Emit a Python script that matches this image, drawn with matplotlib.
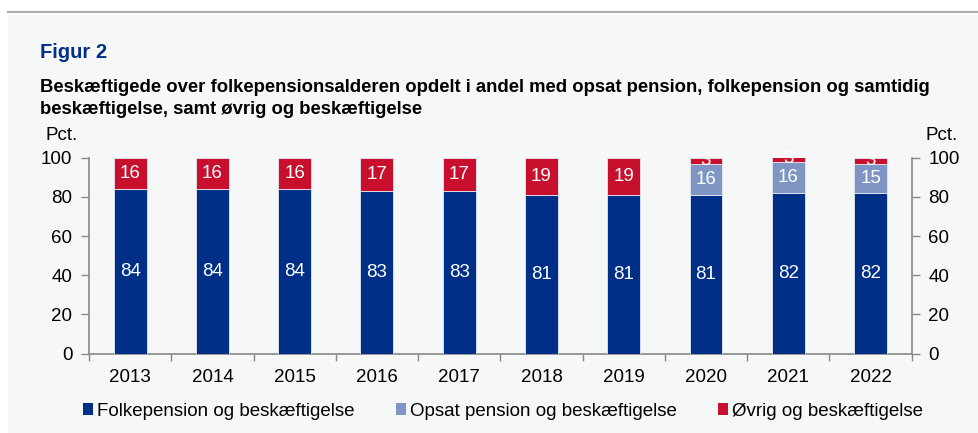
import matplotlib
matplotlib.use("Agg")
import matplotlib.pyplot as plt
from matplotlib.patches import Patch
from matplotlib.lines import Line2D
import numpy as np

plt.rcParams['font.family'] = ['Liberation Sans', 'DejaVu Sans']

years = ["2013", "2014", "2015", "2016", "2017", "2018", "2019", "2020", "2021", "2022"]
folkepension = [84, 84, 84, 83, 83, 81, 81, 81, 82, 82]
opsat = [0, 0, 0, 0, 0, 0, 0, 16, 16, 15]
oevrig = [16, 16, 16, 17, 17, 19, 19, 3, 3, 3]
series_names = ["Folkepension og beskæftigelse", "Opsat pension og beskæftigelse", "Øvrig og beskæftigelse"]
colors = ["#002F87", "#7F96C5", "#C8102E"]
yticks = [0, 20, 40, 60, 80, 100]

bg = "#F6F7F7"
fig = plt.figure(figsize=(9.79, 4.33), dpi=100, facecolor="white")
fig.patches.append(matplotlib.patches.Rectangle((8/979, 0), 1, 1 - 15/433, transform=fig.transFigure,
                                                facecolor=bg, edgecolor="none", zorder=-10))
fig.add_artist(Line2D([8/979, 1], [1 - 12/433, 1 - 12/433], transform=fig.transFigure, color="#AAAAAA", lw=1.5))

ax = fig.add_axes([89/979, 1 - 353.5/433, (911.7 - 89)/979, (353.5 - 157.7)/433])
ax.set_facecolor(bg)

x = np.arange(len(years))
w = 0.4
bottom = np.zeros(len(years))
for vals, c in zip([folkepension, opsat, oevrig], colors):
    vals = np.array(vals, dtype=float)
    ax.bar(x, vals, w, bottom=bottom, color=c, edgecolor="#E6E9F2", linewidth=0.6, zorder=3)
    for xi, b, v in zip(x, bottom, vals):
        if v > 0:
            ax.text(xi, b + v / 2, f"{int(v)}", ha="center", va="center", color="white", fontsize=13.5, zorder=4)
    bottom += vals

ax.set_xlim(-0.5, len(years) - 0.5)
ax.set_ylim(0, 100)
ax.set_yticks(yticks)
ax.set_yticklabels([str(t) for t in yticks])
ax.set_xticks(x)
ax.set_xticklabels(years)
ax.set_xticks(np.arange(-0.5, len(years)), minor=True)
ax.tick_params(axis="x", which="major", length=0, pad=11, labelsize=13.5)
ax.tick_params(axis="x", which="minor", length=5, width=1, color="#888888", direction="out")
ax.tick_params(axis="y", which="major", length=6, width=1, color="#888888", direction="out",
               left=True, right=True, labelleft=True, labelright=True, labelsize=13.5, pad=6)
for s in ["left", "right", "bottom"]:
    ax.spines[s].set_color("#888888")
    ax.spines[s].set_linewidth(1.2)
ax.spines["top"].set_visible(False)

fig.text(62/979, 1 - 136/433, "Pct.", ha="center", va="center", fontsize=13.5)
fig.text(942/979, 1 - 136/433, "Pct.", ha="center", va="center", fontsize=13.5)

fig.text(40/979, 1 - 52/433, "Figur 2", ha="left", va="center", fontsize=14.5, fontweight="bold", color="#002F87")
fig.text(40/979, 1 - 87/433, "Beskæftigede over folkepensionsalderen opdelt i andel med opsat pension, folkepension og samtidig",
         ha="left", va="center", fontsize=13.3, fontweight="bold")
fig.text(40/979, 1 - 110/433, "beskæftigelse, samt øvrig og beskæftigelse",
         ha="left", va="center", fontsize=13.3, fontweight="bold")

handles = [Patch(facecolor=c, edgecolor="none") for c in colors]
fig.legend(handles, series_names, loc="center", bbox_to_anchor=(503/979, 1 - 411/433), ncol=3, frameon=False,
           fontsize=13.5, handlelength=0.55, handleheight=0.55, handletextpad=0.2, columnspacing=2.2)

fig.savefig("out.png", dpi=100, facecolor="white")
